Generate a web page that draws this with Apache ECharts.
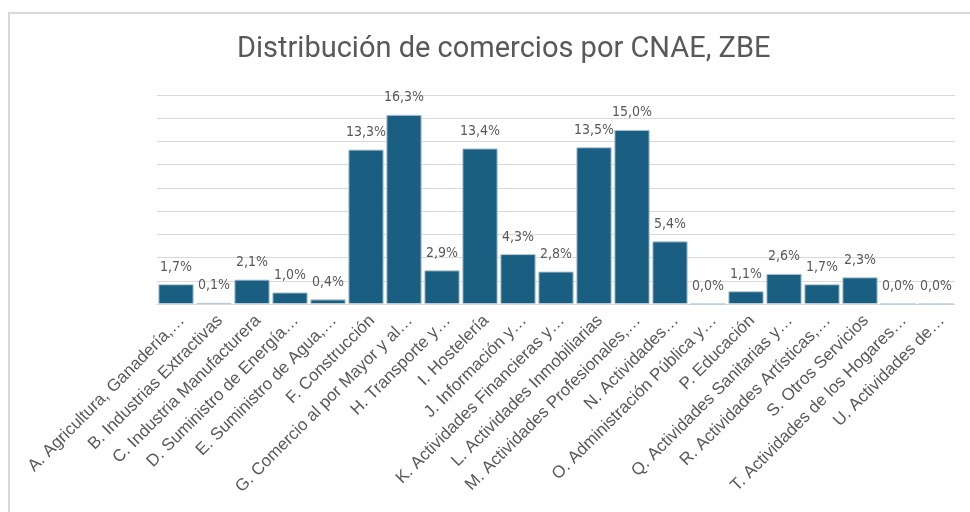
<!DOCTYPE html>
<html>
<head>
<meta charset="utf-8">
<title>Distribución de comercios por CNAE, ZBE</title>
<script src="https://cdn.jsdelivr.net/npm/echarts@6/dist/echarts.min.js"></script>
<style>
  html, body { margin: 0; padding: 0; background: #fff; }
  #frame { position: absolute; left: 8px; top: 12px; width: 980px; height: 520px;
           border-top: 2px solid #d9d9d9; border-left: 2px solid #d9d9d9; }
  #demo { position: absolute; left: 0; top: 0; width: 970px; height: 512px; }
</style>
</head>
<body>
<div id="frame"></div>
<div id="demo"></div>
<script>
// categorias CNAE (texto tal cual aparece en el grafico)
const categorias = [
  'A. Agricultura, Ganadería,…',
  'B. Industrias Extractivas',
  'C. Industria Manufacturera',
  'D. Suministro de Energía…',
  'E. Suministro de Agua,…',
  'F. Construcción',
  'G. Comercio al por Mayor y al…',
  'H. Transporte y…',
  'I. Hostelería',
  'J. Información y…',
  'K. Actividades Financieras y…',
  'L. Actividades Inmobiliarias',
  'M. Actividades Profesionales,…',
  'N. Actividades…',
  'O. Administración Pública y…',
  'P. Educación',
  'Q. Actividades Sanitarias y…',
  'R. Actividades Artísticas,…',
  'S. Otros Servicios',
  'T. Actividades de los Hogares…',
  'U. Actividades de…'
]
// porcentaje de comercios
const porcentajes = [1.7, 0.1, 2.1, 1.0, 0.4, 13.3, 16.3, 2.9, 13.4, 4.3, 2.8, 13.5, 15.0, 5.4, 0.0, 1.1, 2.6, 1.7, 2.3, 0.0, 0.0]

const narrow = '"DejaVu Sans Condensed", "Liberation Sans Narrow", Roboto, sans-serif'

const chart = echarts.init(document.getElementById('demo'))
const option = {
  animation: false,
  title: {
    text: 'Distribución de comercios por CNAE, ZBE',
    left: 232,
    top: 30,
    textStyle: {
      fontFamily: 'Roboto',
      fontSize: 29,
      fontWeight: 'normal',
      color: '#595959'
    }
  },
  grid: {
    left: 157,
    right: 15,
    top: 95,
    bottom: 208
  },
  xAxis: {
    type: 'category',
    data: categorias,
    axisLine: { lineStyle: { color: '#d9d9d9', width: 1 } },
    axisTick: { show: false },
    axisLabel: {
      interval: 0,
      rotate: 45,
      margin: 8,
      verticalAlign: 'top',
      fontFamily: 'Liberation Sans',
      fontSize: 17,
      color: '#595959'
    }
  },
  yAxis: {
    type: 'value',
    min: 0,
    max: 18,
    interval: 2,
    axisLabel: { show: false },
    axisLine: { show: false },
    axisTick: { show: false },
    splitLine: { lineStyle: { color: '#d9d9d9', width: 1 } }
  },
  series: [
    {
      type: 'bar',
      data: porcentajes,
      barCategoryGap: '7%',
      itemStyle: {
        color: '#1a5f82',
        borderColor: '#b8ccd8',
        borderWidth: 1
      },
      label: {
        show: true,
        position: 'top',
        distance: 10,
        fontFamily: narrow,
        fontSize: 14,
        color: '#595959',
        formatter: p => p.value.toFixed(1).replace('.', ',') + '%'
      }
    }
  ]
}
chart.setOption(option)
</script>
</body>
</html>
